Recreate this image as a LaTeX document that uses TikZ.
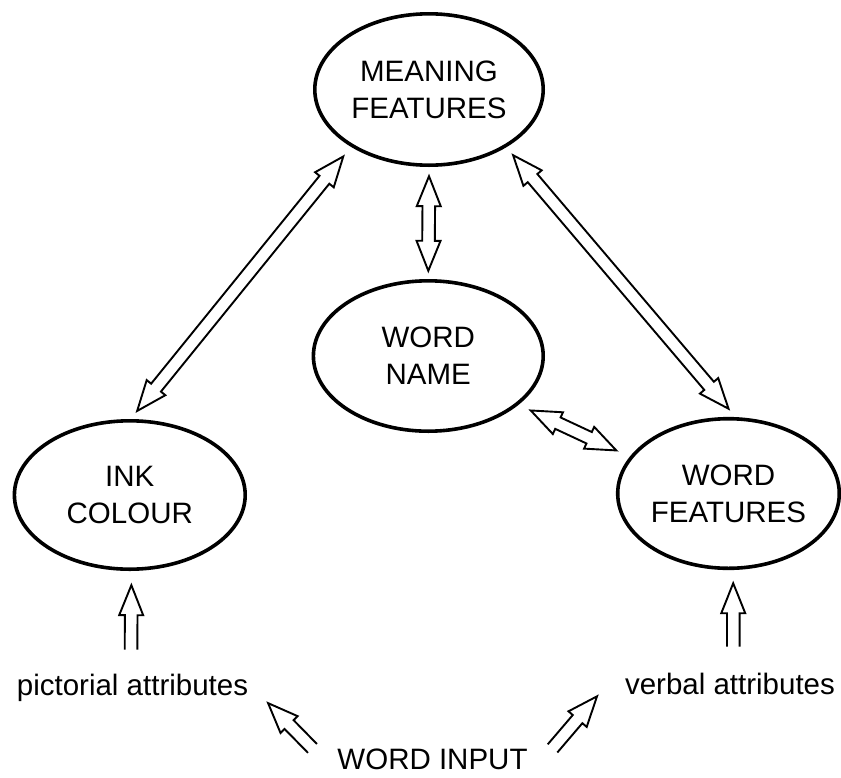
\documentclass[tikz,border=0pt]{standalone}
\usepackage{fontspec}
\setmainfont{Liberation Sans}
\usetikzlibrary{shapes.geometric,calc}
\def\AHL{30pt}\def\AHW{12pt}\def\ASW{6.3pt}
\newcommand\dblarrow[2]{%
  \draw[hollowline] (#1)
    -- ($(#1)!\AHL!(#2)!\AHW!90:(#2)$)
    -- ($(#1)!\AHL!(#2)!\ASW!90:(#2)$)
    -- ($(#2)!\AHL!(#1)!\ASW!-90:(#1)$)
    -- ($(#2)!\AHL!(#1)!\AHW!-90:(#1)$)
    -- (#2)
    -- ($(#2)!\AHL!(#1)!\AHW!90:(#1)$)
    -- ($(#2)!\AHL!(#1)!\ASW!90:(#1)$)
    -- ($(#1)!\AHL!(#2)!\ASW!-90:(#2)$)
    -- ($(#1)!\AHL!(#2)!\AHW!-90:(#2)$)
    -- cycle;}
\newcommand\sglarrow[2]{%
  \draw[hollowline] ($(#1)!\ASW!-90:(#2)$)
    -- ($(#2)!\AHL!(#1)!\ASW!90:(#1)$)
    -- ($(#2)!\AHL!(#1)!\AHW!90:(#1)$)
    -- (#2)
    -- ($(#2)!\AHL!(#1)!\AHW!-90:(#1)$)
    -- ($(#2)!\AHL!(#1)!\ASW!-90:(#1)$)
    -- ($(#1)!\ASW!90:(#2)$);}
\begin{document}
\begin{tikzpicture}[x=1pt,y=1pt,
  box/.style={ellipse, draw, line width=3.6pt, inner sep=0pt, outer sep=0pt,
    align=center, font=\fontsize{29.5}{37}\selectfont},
  lbl/.style={inner sep=0pt, outer sep=0pt, font=\fontsize{29.5}{35}\selectfont},
  hollowline/.style={draw, line width=1.9pt, line join=miter}]
\useasboundingbox (0,0) rectangle (841,-777);
% ellipses
\node[box, minimum width=228.4pt, minimum height=151.4pt] (meaning) at (429,-89.5) {MEANING\\FEATURES};
\node[box, minimum width=229.8pt, minimum height=150.4pt] (name) at (428.3,-356) {WORD\\NAME};
\node[box, minimum width=230.8pt, minimum height=148.4pt] (ink) at (129.8,-495) {INK\\COLOUR};
\node[box, minimum width=221.6pt, minimum height=149.6pt] (wordf) at (728.5,-493.5) {WORD\\FEATURES};
% labels
\node[lbl, anchor=base] (pict) at (132.5,-695) {pictorial attributes};
\node[lbl, anchor=base] (verbal) at (730,-694) {verbal attributes};
\node[lbl, anchor=base] (input) at (432.5,-769) {WORD INPUT};
% connector end points
\coordinate (mn1) at ($(meaning.-90)!-11pt!(meaning.center)$);
\coordinate (mn2) at ($(name.90)!-10pt!(name.center)$);
\coordinate (mi1) at ($(meaning.218)!-15pt!(meaning.center)$);
\coordinate (mi2) at ($(ink.85)!-10pt!(ink.center)$);
\coordinate (mw1) at ($(meaning.322)!-13pt!(meaning.center)$);
\coordinate (mw2) at ($(wordf.90)!-10pt!(wordf.center)$);
\coordinate (nw1) at ($(name.332)!-15pt!(name.center)$);
\coordinate (nw2) at ($(wordf.159)!-17pt!(wordf.center)$);
\coordinate (pi1) at ($(ink.271)!-16pt!(ink.center)$);
\coordinate (pi0) at ($(pict.north)+(-1.5,24)$);
\coordinate (wv1) at ($(wordf.273)!-15pt!(wordf.center)$);
\coordinate (wv0) at ($(verbal.north)+(3.3,26)$);
\coordinate (ip0) at ($(input.north west)+(-25,0)$);
\coordinate (ip1) at ($(pict.south east)+(20,-2)$);
\coordinate (iv0) at ($(input.north east)+(25,0)$);
\coordinate (iv1) at ($(verbal.south west)+(-28,-2)$);
% connectors
\dblarrow{mn1}{mn2}
\dblarrow{mi1}{mi2}
\dblarrow{mw1}{mw2}
\dblarrow{nw1}{nw2}
\sglarrow{pi0}{pi1}
\sglarrow{wv0}{wv1}
\sglarrow{ip0}{ip1}
\sglarrow{iv0}{iv1}
\end{tikzpicture}
\end{document}
